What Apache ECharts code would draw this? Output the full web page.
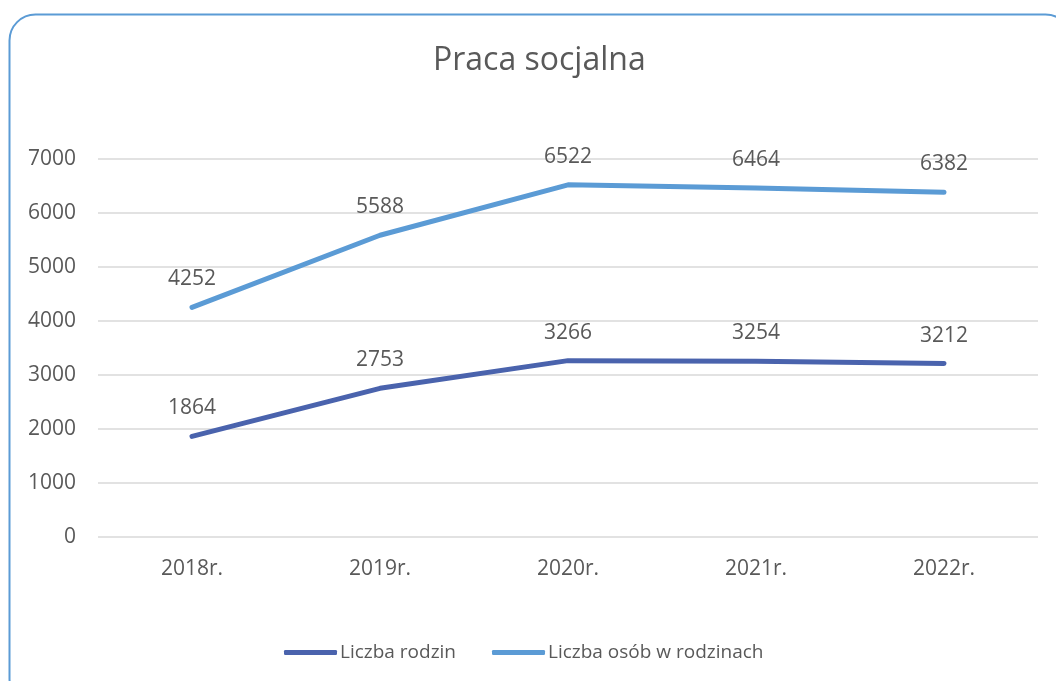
<!DOCTYPE html>
<html><head><meta charset="utf-8">
<script src="https://cdn.jsdelivr.net/npm/echarts@6/dist/echarts.min.js"></script>
<style>html,body{margin:0;padding:0;background:#fff;}#c{width:1056px;height:681px;}</style>
</head><body><div id="c"></div>
<script>
const categories = ['2018r.', '2019r.', '2020r.', '2021r.', '2022r.'];
const liczbaRodzin = [1864, 2753, 3266, 3254, 3212];
const liczbaOsob = [4252, 5588, 6522, 6464, 6382];
const seriesNames = ['Liczba rodzin', 'Liczba osób w rodzinach'];
const yTicks = { min: 0, max: 7000, interval: 1000 };

const txt = '#595959';
const font = '"Open Sans", "Liberation Sans", sans-serif';
const chart = echarts.init(document.getElementById('c'), null, { renderer: 'canvas' });
const lbl = { show: true, position: 'top', distance: 17, color: txt, fontSize: 21, fontFamily: font };
chart.setOption({
  animation: false,
  backgroundColor: '#fff',
  graphic: [{
    type: 'rect', shape: { x: 9.5, y: 14.5, width: 1062, height: 690, r: 26 },
    style: { fill: 'none', stroke: '#5b9bd5', lineWidth: 2 }, z: -1
  }],
  title: {
    text: 'Praca socjalna', left: 428, top: 40,
    textStyle: { color: txt, fontSize: 32, fontWeight: 'normal', fontFamily: font }
  },
  legend: {
    bottom: 14, left: 279, itemWidth: 53, itemHeight: 5, itemGap: 36,
    icon: 'roundRect',
    textStyle: { color: txt, fontSize: 19, fontFamily: font, padding: [0, 0, 0, -2] },
    data: seriesNames
  },
  grid: { left: 98, right: 18, top: 159, height: 378, containLabel: false },
  xAxis: {
    type: 'category', data: categories, boundaryGap: true,
    axisLine: { show: false }, axisTick: { show: false },
    axisLabel: { color: txt, fontSize: 21, fontFamily: font, margin: 22 },
    splitLine: { show: false }
  },
  yAxis: {
    type: 'value', min: yTicks.min, max: yTicks.max, interval: yTicks.interval,
    axisLine: { show: false }, axisTick: { show: false },
    axisLabel: { color: txt, fontSize: 21, fontFamily: font, margin: 22, formatter: v => String(v) },
    splitLine: { lineStyle: { color: '#d9d9d9', width: 1.5 } }
  },
  series: [
    {
      name: seriesNames[0], type: 'line', data: liczbaRodzin, symbol: 'circle', symbolSize: 1, showSymbol: true,
      lineStyle: { color: '#4a63ad', width: 5, cap: 'round' }, itemStyle: { color: '#4a63ad' },
      label: lbl
    },
    {
      name: seriesNames[1], type: 'line', data: liczbaOsob, symbol: 'circle', symbolSize: 1, showSymbol: true,
      lineStyle: { color: '#5b9bd5', width: 5, cap: 'round' }, itemStyle: { color: '#5b9bd5' },
      label: lbl
    }
  ]
});
</script></body></html>
